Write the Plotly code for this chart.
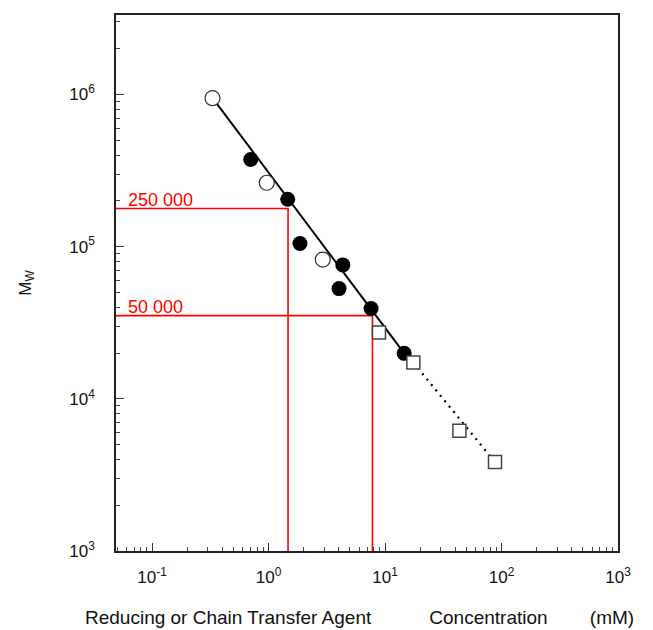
import numpy as np
import plotly.graph_objects as go

# ---- data ----
open_circle_x = [0.33, 0.965, 2.92]
open_circle_y = [9.46e5, 2.63e5, 8.22e4]

filled_x = [0.703, 1.46, 1.86, 4.34, 4.03, 7.59, 14.6]
filled_y = [3.74e5, 2.05e5, 1.05e5, 7.59e4, 5.30e4, 3.92e4, 1.99e4]

square_x = [8.87, 17.5, 43.5, 87.9]
square_y = [2.73e4, 1.73e4, 6.18e3, 3.84e3]

fit_x = [0.33, 15.7]
fit_y = [9.5e5, 1.85e4]

extrap_x = [17.5, 87.9]
extrap_y = [1.73e4, 3.84e3]

red_conc = [1.47, 7.8]
red_mw = [1.78e5, 3.52e4]
red_labels = ["250 000", "50 000"]

x_tickvals = [0.1, 1, 10, 100, 1000]
x_ticktext = ["10<sup>-1</sup>", "10<sup>0</sup>", "10<sup>1</sup>", "10<sup>2</sup>", "10<sup>3</sup>"]
y_tickvals = [1e3, 1e4, 1e5, 1e6]
y_ticktext = ["10<sup>3</sup>", "10<sup>4</sup>", "10<sup>5</sup>", "10<sup>6</sup>"]

x_min = 0.049
x_max = 1000
y_min = 1000
y_max = 3.33e6

fig = go.Figure()

# red guide lines
for cx, my in zip(red_conc, red_mw):
    fig.add_trace(go.Scatter(x=[x_min, cx, cx], y=[my, my, y_min], mode="lines",
                             line=dict(color="#ff0000", width=1.6), hoverinfo="skip",
                             showlegend=False))

# fit line
fig.add_trace(go.Scatter(x=fit_x, y=fit_y, mode="lines",
                         line=dict(color="black", width=2), showlegend=False))
# extrapolation dotted
fig.add_trace(go.Scatter(x=extrap_x, y=extrap_y, mode="lines",
                         line=dict(color="black", width=2.2, dash="2px,5px"), showlegend=False))

fig.add_trace(go.Scatter(x=open_circle_x, y=open_circle_y, mode="markers",
                         marker=dict(symbol="circle", size=15, color="white",
                                     line=dict(color="#333", width=1.2)), showlegend=False))
fig.add_trace(go.Scatter(x=filled_x, y=filled_y, mode="markers",
                         marker=dict(symbol="circle", size=15, color="black",
                                     line=dict(color="black", width=0)), showlegend=False))
fig.add_trace(go.Scatter(x=square_x, y=square_y, mode="markers",
                         marker=dict(symbol="square", size=13, color="white",
                                     line=dict(color="#444", width=1.5)), showlegend=False))

font_family = "Liberation Sans, Arial, sans-serif"

fig.update_xaxes(type="log", range=[np.log10(x_min), np.log10(x_max)],
                 tickvals=x_tickvals, ticktext=x_ticktext,
                 ticks="inside", ticklen=8, tickwidth=1.3, tickcolor="#333",
                 minor=dict(ticks="inside", ticklen=4, tickwidth=1.2, tickcolor="#444", dtick="D1"),
                 showline=True, linecolor="#222", linewidth=1.5, mirror=True,
                 showgrid=False, zeroline=False,
                 tickfont=dict(family=font_family, size=17, color="#111"),
                 ticklabelstandoff=10)
fig.update_yaxes(type="log", range=[np.log10(y_min), np.log10(y_max)],
                 tickvals=y_tickvals, ticktext=y_ticktext,
                 ticks="inside", ticklen=8, tickwidth=1.3, tickcolor="#333",
                 minor=dict(ticks="inside", ticklen=4, tickwidth=1.2, tickcolor="#444", dtick="D1"),
                 showline=True, linecolor="#222", linewidth=1.5, mirror=True,
                 showgrid=False, zeroline=False,
                 tickfont=dict(family=font_family, size=17, color="#111"),
                 ticklabelstandoff=16)

annotations = []
for lab, my in zip(red_labels, red_mw):
    annotations.append(dict(text=lab, xref="paper", yref="y", x=0.02, y=np.log10(my),
                            xanchor="left", yanchor="bottom", showarrow=False,
                            font=dict(family=font_family, size=18, color="#ff0000"),
                            yshift=-3))
nb = "\u00a0"
annotations.append(dict(text="Reducing or Chain Transfer Agent" + nb * 11 + "Concentration" + nb * 8 + "(mM)",
                        xref="paper", yref="paper", x=-0.066, y=-0.1245, xanchor="left", yanchor="middle",
                        showarrow=False, font=dict(family=font_family, size=19, color="#111")))
annotations.append(dict(text="M<sub>W</sub>", xref="paper", yref="paper", x=-0.178, y=0.5,
                        xanchor="center", yanchor="middle", textangle=-90, showarrow=False,
                        font=dict(family=font_family, size=17, color="#111")))

# page body has an ~8px margin, so the figure is shrunk by that amount
fig.update_layout(width=645, height=622, margin=dict(l=108, r=35, t=5, b=79),
                  plot_bgcolor="white", paper_bgcolor="white", annotations=annotations)

fig.write_html("out.html")
